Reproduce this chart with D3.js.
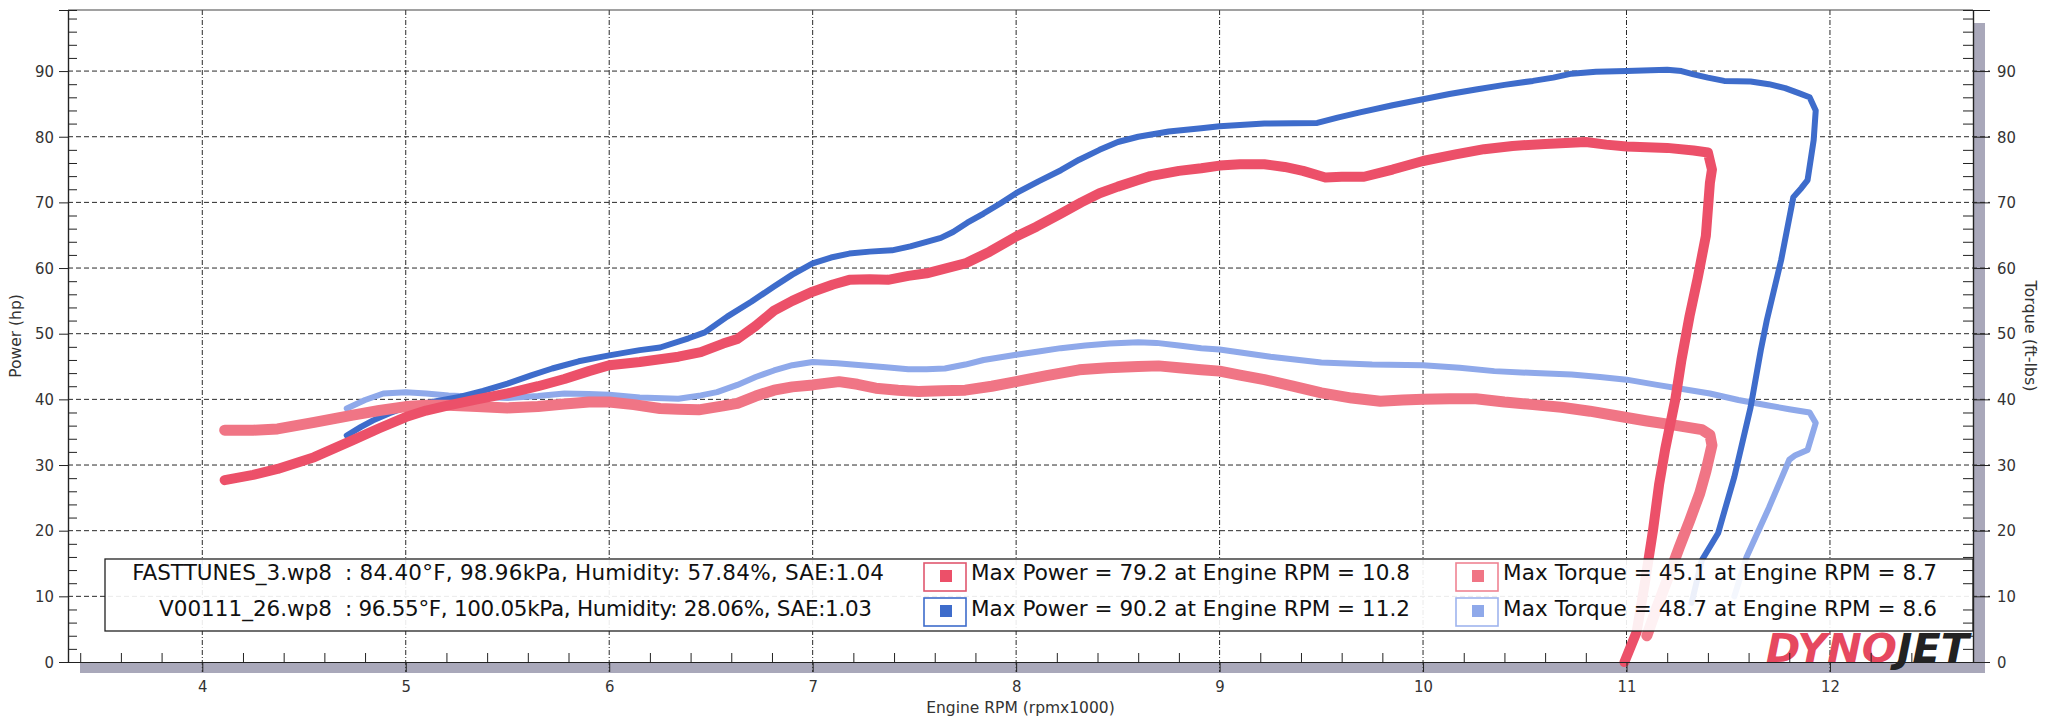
<!DOCTYPE html>
<html>
<head>
<meta charset="utf-8">
<script src="https://cdn.jsdelivr.net/npm/d3@7"></script>
<style>
  body { margin: 0; background: #fff; }
  svg { display: block; font-family: "DejaVu Sans", "Liberation Sans", sans-serif; }
</style>
</head>
<body>
<svg id="chart"></svg>
<script>
// [rpm x1000, value]
const run1Power = [[4.11,27.7],[4.25,28.5],[4.37,29.4],[4.55,31.2],[4.74,33.8],[4.87,35.6],[5.0,37.3],[5.1,38.3],[5.21,39.1],[5.35,40.0],[5.5,40.9],[5.65,42.0],[5.78,43.1],[5.9,44.3],[6.0,45.2],[6.15,45.7],[6.34,46.5],[6.45,47.2],[6.56,48.5],[6.63,49.2],[6.72,51.2],[6.81,53.5],[6.9,55.0],[7.0,56.4],[7.1,57.5],[7.18,58.2],[7.28,58.3],[7.37,58.2],[7.47,58.8],[7.56,59.2],[7.65,59.9],[7.75,60.7],[7.87,62.5],[8.0,64.8],[8.1,66.3],[8.22,68.3],[8.32,70.0],[8.41,71.4],[8.5,72.4],[8.6,73.4],[8.66,74.0],[8.8,74.8],[8.91,75.2],[9.0,75.6],[9.1,75.8],[9.22,75.8],[9.32,75.4],[9.41,74.8],[9.52,73.8],[9.6,73.9],[9.71,73.9],[9.85,75.0],[10.0,76.3],[10.16,77.3],[10.3,78.1],[10.44,78.6],[10.6,78.9],[10.8,79.2],[10.9,78.8],[11.0,78.5],[11.2,78.3],[11.33,77.9],[11.4,77.6],[11.42,75.0],[11.41,73.0],[11.39,64.9],[11.35,58.5],[11.31,52.7],[11.27,46.0],[11.24,40.0],[11.19,32.4],[11.16,27.0],[11.13,20.0],[11.09,12.0],[11.05,4.6],[10.99,0]];
const run2Power = [[4.71,34.5],[4.78,35.8],[4.84,36.8],[4.92,37.9],[5.0,38.8],[5.13,39.6],[5.27,40.4],[5.38,41.3],[5.5,42.4],[5.62,43.7],[5.72,44.7],[5.85,45.8],[6.0,46.7],[6.15,47.5],[6.25,47.9],[6.39,49.3],[6.47,50.2],[6.58,52.6],[6.7,54.9],[6.81,57.2],[6.9,59.0],[7.0,60.7],[7.09,61.6],[7.18,62.2],[7.28,62.5],[7.39,62.7],[7.48,63.3],[7.56,64.0],[7.63,64.6],[7.69,65.5],[7.76,66.9],[7.84,68.3],[7.92,69.8],[8.0,71.4],[8.11,73.2],[8.22,74.9],[8.31,76.5],[8.41,78.0],[8.5,79.2],[8.6,80.0],[8.75,80.8],[8.91,81.3],[9.0,81.6],[9.22,82.0],[9.48,82.1],[9.58,82.9],[9.69,83.7],[9.85,84.8],[10.0,85.7],[10.13,86.5],[10.26,87.2],[10.4,87.9],[10.54,88.5],[10.64,89.0],[10.73,89.6],[10.85,89.9],[11.0,90.0],[11.2,90.2],[11.27,90.0],[11.33,89.5],[11.4,89.0],[11.48,88.5],[11.61,88.4],[11.7,88.0],[11.78,87.4],[11.85,86.6],[11.9,86.0],[11.93,84.0],[11.92,79.5],[11.89,73.4],[11.86,72.2],[11.82,70.8],[11.76,61.2],[11.69,52.1],[11.66,47.5],[11.61,38.8],[11.53,28.2],[11.45,19.6],[11.37,15.5],[11.32,9.0]];
const run1Torque = [[4.11,35.3],[4.25,35.3],[4.37,35.5],[4.55,36.5],[4.74,37.6],[4.87,38.3],[5.0,38.9],[5.1,39.1],[5.21,39.1],[5.35,38.9],[5.5,38.7],[5.65,38.9],[5.78,39.3],[5.9,39.6],[6.0,39.6],[6.12,39.2],[6.25,38.6],[6.34,38.5],[6.44,38.4],[6.56,39.0],[6.63,39.4],[6.72,40.5],[6.81,41.4],[6.9,41.9],[7.0,42.2],[7.13,42.7],[7.22,42.3],[7.31,41.7],[7.42,41.4],[7.52,41.2],[7.63,41.3],[7.75,41.4],[7.88,42.0],[8.0,42.7],[8.15,43.6],[8.31,44.5],[8.45,44.8],[8.6,45.0],[8.7,45.1],[8.8,44.8],[8.91,44.5],[9.0,44.3],[9.1,43.7],[9.22,43.0],[9.36,42.0],[9.5,41.0],[9.65,40.2],[9.79,39.7],[9.9,39.9],[10.0,40.0],[10.13,40.1],[10.26,40.1],[10.4,39.6],[10.54,39.2],[10.68,38.8],[10.82,38.2],[10.95,37.5],[11.1,36.7],[11.25,36.0],[11.37,35.4],[11.41,34.6],[11.42,33.0],[11.39,29.0],[11.36,25.7],[11.31,21.5],[11.26,17.5],[11.2,12.5],[11.14,7.5],[11.1,4.0]];
const run2Torque = [[4.71,38.6],[4.8,39.9],[4.89,40.9],[5.0,41.1],[5.1,40.9],[5.21,40.6],[5.35,40.4],[5.5,40.2],[5.65,40.5],[5.78,40.9],[5.9,40.8],[6.0,40.7],[6.15,40.3],[6.34,40.1],[6.45,40.6],[6.53,41.1],[6.63,42.2],[6.72,43.4],[6.81,44.4],[6.9,45.2],[7.0,45.7],[7.12,45.5],[7.24,45.2],[7.36,44.9],[7.47,44.6],[7.56,44.6],[7.65,44.7],[7.75,45.3],[7.84,46.0],[8.0,46.8],[8.11,47.3],[8.22,47.8],[8.34,48.2],[8.46,48.5],[8.6,48.7],[8.69,48.6],[8.8,48.2],[8.91,47.8],[9.0,47.6],[9.25,46.5],[9.5,45.6],[9.75,45.3],[10.0,45.2],[10.18,44.8],[10.35,44.3],[10.55,44.0],[10.73,43.8],[10.87,43.4],[11.0,43.0],[11.15,42.2],[11.29,41.5],[11.41,40.9],[11.55,39.9],[11.69,39.1],[11.8,38.5],[11.9,38.0],[11.93,36.4],[11.89,32.3],[11.83,31.5],[11.8,30.8],[11.7,23.5],[11.59,16.0],[11.53,10.0]];

const runNames = ["FASTTUNES_3.wp8", "V00111_26.wp8"];
const runConditions = [": 84.40°F, 98.96kPa, Humidity: 57.84%, SAE:1.04", ": 96.55°F, 100.05kPa, Humidity: 28.06%, SAE:1.03"];
const maxPower = [79.2, 90.2];
const maxPowerRpm = [10.8, 11.2];
const maxTorque = [45.1, 48.7];
const maxTorqueRpm = [8.7, 8.6];

const xTicks = [4, 5, 6, 7, 8, 9, 10, 11, 12];
const yTicks = [0, 10, 20, 30, 40, 50, 60, 70, 80, 90];

const W = 2047, H = 719;
const margin = { top: 10, right: 74, bottom: 57, left: 68 };
const plotLeft = margin.left;
const plotRight = W - margin.right;
const plotTop = margin.top;
const plotBottom = H - margin.bottom;

const svg = d3.select("#chart").attr("width", W).attr("height", H);

const x = d3.scaleLinear().domain([3.34, 12.703]).range([plotLeft, plotRight]);
const y = d3.scaleLinear().domain([0, 99.3]).range([plotBottom, plotTop]);

const colors = {
  power1: "#ec5069",
  torque1: "#f07585",
  power2: "#3e6ccb",
  torque2: "#8fa9ea"
};

// gray shadow bars along bottom and right
svg.append("rect").attr("x", 80).attr("y", plotBottom).attr("width", plotRight + 12 - 80).attr("height", 11).attr("fill", "#a9a8ba");
svg.append("rect").attr("x", plotRight).attr("y", 23).attr("width", 12).attr("height", plotBottom + 11 - 23).attr("fill", "#a9a8ba");

// grid
const grid = svg.append("g");
grid.selectAll("line.h")
  .data(yTicks.filter((d) => d > 0))
  .join("line")
  .attr("x1", plotLeft).attr("x2", plotRight + 17)
  .attr("y1", (d) => y(d)).attr("y2", (d) => y(d))
  .attr("stroke", "#2a2a2a").attr("stroke-width", 1).attr("stroke-dasharray", "5,3");
grid.selectAll("line.v")
  .data(xTicks)
  .join("line")
  .attr("x1", (d) => x(d)).attr("x2", (d) => x(d))
  .attr("y1", plotTop).attr("y2", plotBottom + 10)
  .attr("stroke", "#2a2a2a").attr("stroke-width", 1).attr("stroke-dasharray", "5,2,1,2");

// curves
const line = d3.line().x((d) => x(d[0])).y((d) => y(d[1]));
const series = [
  { data: run2Torque, color: colors.torque2, width: 6 },
  { data: run2Power, color: colors.power2, width: 6 },
  { data: run1Torque, color: colors.torque1, width: 11 },
  { data: run1Power, color: colors.power1, width: 10 }
];
svg.append("g").selectAll("path")
  .data(series)
  .join("path")
  .attr("d", (d) => line(d.data))
  .attr("fill", "none")
  .attr("stroke", (d) => d.color)
  .attr("stroke-width", (d) => d.width)
  .attr("stroke-linejoin", "round")
  .attr("stroke-linecap", "round");

// logo (one text, two coloured parts)
const logo = svg.append("text")
  .attr("x", 1766).attr("y", plotBottom)
  .attr("font-family", "'DejaVu Sans', sans-serif")
  .attr("font-weight", "bold").attr("font-style", "italic").attr("font-size", 39)
  .attr("textLength", 203).attr("lengthAdjust", "spacingAndGlyphs");
logo.append("tspan").attr("fill", "#e6485f").text("DYNO");
logo.append("tspan").attr("fill", "#222").text("JET");

// legend
const legend = svg.append("g");
legend.append("rect")
  .attr("x", 105).attr("y", 559).attr("width", plotRight - 105).attr("height", 72)
  .attr("fill", "#fff").attr("fill-opacity", 0.9)
  .attr("stroke", "#222").attr("stroke-width", 1.3);

const rowY = [580, 616];
const swatchY = [563, 598];
const fontSize = 21.5;

legend.selectAll("text.name")
  .data(runNames)
  .join("text")
  .attr("x", 332).attr("y", (d, i) => rowY[i])
  .attr("text-anchor", "end").attr("font-size", fontSize).attr("fill", "#111")
  .text((d) => d);
legend.selectAll("text.cond")
  .data(runConditions)
  .join("text")
  .attr("x", 345).attr("y", (d, i) => rowY[i])
  .attr("font-size", fontSize).attr("fill", "#111")
  .attr("textLength", (d, i) => (i === 0 ? 539 : 527))
  .text((d) => d);

const swatches = [
  { sx: 924, tx: 971, row: 0, len: 439, stroke: "#e0576f", fill: colors.power1, label: `Max Power = ${maxPower[0]} at Engine RPM = ${maxPowerRpm[0]}` },
  { sx: 924, tx: 971, row: 1, len: 439, stroke: "#3e6ccb", fill: colors.power2, label: `Max Power = ${maxPower[1]} at Engine RPM = ${maxPowerRpm[1]}` },
  { sx: 1456, tx: 1503, row: 0, len: 434, stroke: "#ef8493", fill: colors.torque1, label: `Max Torque = ${maxTorque[0]} at Engine RPM = ${maxTorqueRpm[0]}` },
  { sx: 1456, tx: 1503, row: 1, len: 434, stroke: "#9fb4ee", fill: colors.torque2, label: `Max Torque = ${maxTorque[1]} at Engine RPM = ${maxTorqueRpm[1]}` }
];
const sw = legend.selectAll("g.sw").data(swatches).join("g");
sw.append("rect")
  .attr("x", (d) => d.sx).attr("y", (d) => swatchY[d.row])
  .attr("width", 42).attr("height", 28)
  .attr("fill", "#fff").attr("stroke", (d) => d.stroke).attr("stroke-width", 1.6);
sw.append("rect")
  .attr("x", (d) => d.sx + 16).attr("y", (d) => swatchY[d.row] + 7)
  .attr("width", 12).attr("height", 12)
  .attr("fill", (d) => d.fill);
sw.append("text")
  .attr("x", (d) => d.tx).attr("y", (d) => rowY[d.row])
  .attr("font-size", fontSize).attr("fill", "#111")
  .attr("textLength", (d) => d.len)
  .text((d) => d.label);

// axes
const axisColor = "#222";
const labelColor = "#333";

svg.append("line").attr("x1", plotLeft).attr("x2", plotRight).attr("y1", plotTop).attr("y2", plotTop)
  .attr("stroke", "#444").attr("stroke-width", 1.2);

const minorY = d3.range(2, 99, 2).filter((d) => d % 10);
const minorX = d3.range(3.4, 12.61, 0.2).filter((d) => Math.abs(d - Math.round(d)) > 0.05);

const gLeft = svg.append("g").attr("transform", `translate(${plotLeft},0)`)
  .call(d3.axisLeft(y).tickValues(yTicks).tickSize(9).tickPadding(5).tickFormat(d3.format("d")));
const gLeftMinor = svg.append("g").attr("transform", `translate(${plotLeft},0)`)
  .call(d3.axisLeft(y).tickValues(minorY).tickSize(-9).tickFormat(""));
const gRight = svg.append("g").attr("transform", `translate(${plotRight},0)`)
  .call(d3.axisRight(y).tickValues(yTicks).tickSize(17).tickPadding(7).tickFormat(d3.format("d")));
const gRightMinor = svg.append("g").attr("transform", `translate(${plotRight},0)`)
  .call(d3.axisRight(y).tickValues(minorY).tickSize(-10).tickFormat(""));
const gBottom = svg.append("g").attr("transform", `translate(0,${plotBottom})`)
  .call(d3.axisBottom(x).tickValues(xTicks).tickSize(10).tickPadding(8));
const gBottomMinor = svg.append("g").attr("transform", `translate(0,${plotBottom})`)
  .call(d3.axisBottom(x).tickValues(minorX).tickSize(-9).tickFormat(""));

[gLeft, gLeftMinor, gRight, gRightMinor, gBottom, gBottomMinor].forEach((g) => {
  g.select(".domain").attr("stroke", axisColor).attr("stroke-width", 1.2);
  g.selectAll(".tick line").attr("stroke", axisColor).attr("stroke-width", 1);
  g.selectAll(".tick text").attr("fill", labelColor).attr("font-size", 16.5)
    .attr("font-family", "'DejaVu Sans Condensed', sans-serif");
});
gBottom.select(".domain").attr("d", `M${plotLeft},0.5H${plotRight}`);
gBottomMinor.select(".domain").remove();

// axis titles
svg.append("text")
  .attr("transform", `translate(21,${(plotTop + plotBottom) / 2}) rotate(-90)`)
  .attr("text-anchor", "middle").attr("font-size", 15.5).attr("fill", labelColor)
  .text("Power (hp)");
svg.append("text")
  .attr("transform", `translate(2025,${(plotTop + plotBottom) / 2}) rotate(90)`)
  .attr("text-anchor", "middle").attr("font-size", 16).attr("fill", labelColor)
  .text("Torque (ft-lbs)");
svg.append("text")
  .attr("x", (plotLeft + plotRight) / 2).attr("y", 713)
  .attr("text-anchor", "middle").attr("font-size", 15.5).attr("fill", labelColor)
  .text("Engine RPM (rpmx1000)");
</script>
</body>
</html>
